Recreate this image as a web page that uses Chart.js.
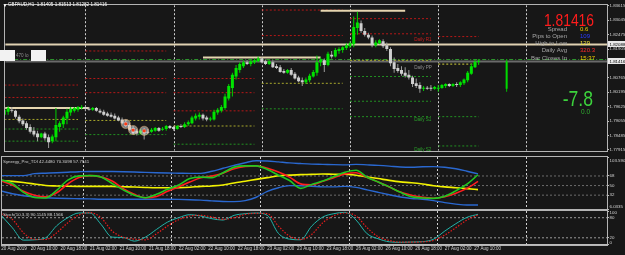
<!DOCTYPE html>
<html><head><meta charset="utf-8">
<script src="https://cdn.jsdelivr.net/npm/chart.js@4.4.1/dist/chart.umd.min.js"></script>
<style>
html,body{margin:0;padding:0;background:#161616;width:625px;height:255px;overflow:hidden;}
canvas{position:absolute;left:0;display:block;}
#c1{top:0;} #c2{top:156px;} #c3{top:210px;}
</style></head><body>
<canvas id="c1" width="625" height="156"></canvas>
<canvas id="c2" width="625" height="54"></canvas>
<canvas id="c3" width="625" height="45"></canvas>
<script>
// ---------------- data ----------------
const symbol = 'GBPAUD', period = 'H1';
const open = [1.7931,1.7942,1.7950,1.7946,1.7923,1.7908,1.7897,1.7882,1.7867,1.7856,
1.7841,1.7856,1.7841,1.7826,1.7841,1.7882,1.7893,1.7916,1.7939,1.7946,
1.7950,1.7957,1.7961,1.7954,1.7950,1.7957,1.7946,1.7942,1.7935,1.7931,
1.7927,1.7920,1.7912,1.7901,1.7890,1.7878,1.7867,1.7856,1.7871,1.7863,
1.7863,1.7867,1.7878,1.7871,1.7874,1.7886,1.7882,1.7874,1.7886,1.7882,
1.7893,1.7897,1.7916,1.7923,1.7931,1.7920,1.7912,1.7912,1.7939,1.7946,
1.7957,1.7995,1.8036,1.8082,1.8108,1.8123,1.8138,1.8131,1.8138,1.8142,
1.8153,1.8142,1.8131,1.8138,1.8123,1.8119,1.8104,1.8097,1.8108,1.8093,
1.8078,1.8067,1.8059,1.8067,1.8082,1.8097,1.8138,1.8146,1.8127,1.8168,
1.8161,1.8183,1.8187,1.8195,1.8202,1.8210,1.8274,1.8293,1.8262,1.8247,
1.8236,1.8206,1.8214,1.8221,1.8206,1.8191,1.8138,1.8116,1.8108,1.8097,
1.8089,1.8078,1.8055,1.8048,1.8033,1.8036,1.8036,1.8033,1.8033,1.8036,
1.8044,1.8052,1.8044,1.8052,1.8048,1.8055,1.8067,1.8093,1.8119,1.81405];
const high = [1.7957,1.7965,1.7961,1.7950,1.7931,1.7916,1.7905,1.7893,1.7882,1.7867,
1.7859,1.7863,1.7852,1.7852,1.7957,1.7905,1.7927,1.7954,1.7961,1.7961,
1.7965,1.7969,1.7965,1.7961,1.7961,1.7961,1.7954,1.7950,1.7942,1.7939,
1.7935,1.7927,1.7920,1.7912,1.7897,1.7886,1.7874,1.7874,1.7878,1.7874,
1.7878,1.7882,1.7882,1.7882,1.7890,1.7890,1.7886,1.7890,1.7893,1.7901,
1.7908,1.7927,1.7935,1.7939,1.7935,1.7927,1.7923,1.7950,1.7957,1.7969,
1.8014,1.8052,1.8097,1.8127,1.8138,1.8146,1.8146,1.8149,1.8153,1.8161,
1.8157,1.8149,1.8146,1.8146,1.8131,1.8127,1.8112,1.8112,1.8116,1.8100,
1.8085,1.8078,1.8078,1.8093,1.8108,1.8165,1.8157,1.8153,1.8180,1.8183,
1.8195,1.8198,1.8202,1.8214,1.8221,1.8319,1.8338,1.8304,1.8274,1.8255,
1.8244,1.8225,1.8229,1.8229,1.8217,1.8198,1.8157,1.8131,1.8123,1.8119,
1.8108,1.8085,1.8074,1.8059,1.8044,1.8044,1.8048,1.8044,1.8048,1.8052,
1.8055,1.8055,1.8055,1.8059,1.8063,1.8074,1.8104,1.8131,1.8150,1.81513];
const low = [1.7923,1.7931,1.7939,1.7916,1.7897,1.7886,1.7871,1.7856,1.7844,1.7826,
1.7837,1.7829,1.7799,1.7818,1.7826,1.7863,1.7878,1.7893,1.7927,1.7939,
1.7942,1.7950,1.7946,1.7946,1.7946,1.7942,1.7935,1.7927,1.7923,1.7920,
1.7912,1.7905,1.7893,1.7882,1.7867,1.7852,1.7848,1.7852,1.7833,1.7852,
1.7859,1.7863,1.7863,1.7867,1.7867,1.7874,1.7867,1.7871,1.7878,1.7878,
1.7886,1.7893,1.7908,1.7912,1.7908,1.7905,1.7905,1.7908,1.7931,1.7939,
1.7950,1.7987,1.8003,1.8070,1.8097,1.8116,1.8127,1.8123,1.8131,1.8138,
1.8134,1.8127,1.8127,1.8116,1.8112,1.8097,1.8093,1.8093,1.8085,1.8070,
1.8059,1.8044,1.8052,1.8059,1.8078,1.8085,1.8123,1.8100,1.8123,1.8153,
1.8157,1.8172,1.8176,1.8187,1.8195,1.8198,1.8247,1.8255,1.8240,1.8229,
1.8198,1.8198,1.8210,1.8195,1.8183,1.8123,1.8097,1.8097,1.8085,1.8078,
1.8070,1.8040,1.8036,1.8018,1.8025,1.8029,1.8025,1.8029,1.8022,1.8033,
1.8036,1.8040,1.8040,1.8040,1.8040,1.8048,1.8059,1.8089,1.8116,1.81282];
const close = [1.7950,1.7957,1.7946,1.7923,1.7905,1.7893,1.7878,1.7863,1.7852,1.7841,
1.7856,1.7837,1.7822,1.7844,1.7890,1.7897,1.7920,1.7942,1.7954,1.7957,
1.7961,1.7961,1.7954,1.7950,1.7957,1.7946,1.7939,1.7931,1.7927,1.7923,
1.7916,1.7908,1.7897,1.7886,1.7871,1.7856,1.7856,1.7867,1.7856,1.7859,
1.7871,1.7878,1.7867,1.7874,1.7886,1.7878,1.7874,1.7886,1.7882,1.7893,
1.7901,1.7920,1.7927,1.7931,1.7916,1.7912,1.7916,1.7942,1.7950,1.7961,
1.8003,1.8044,1.8089,1.8116,1.8131,1.8138,1.8131,1.8142,1.8146,1.8153,
1.8138,1.8131,1.8142,1.8119,1.8116,1.8100,1.8097,1.8108,1.8089,1.8074,
1.8063,1.8059,1.8070,1.8085,1.8100,1.8138,1.8149,1.8127,1.8172,1.8161,
1.8187,1.8191,1.8198,1.8206,1.8214,1.8278,1.8296,1.8262,1.8247,1.8236,
1.8206,1.8217,1.8225,1.8202,1.8191,1.8134,1.8112,1.8104,1.8093,1.8085,
1.8078,1.8052,1.8044,1.8033,1.8036,1.8033,1.8033,1.8040,1.8036,1.8048,
1.8052,1.8044,1.8052,1.8048,1.8059,1.8070,1.8097,1.8123,1.81405,1.81416];

const timeIdx = [0,8,16,24,32,40,48,56,64,72,80,88,96,104,112,120,128];
const timeLabels = ['20 Aug 2019','20 Aug 10:00','20 Aug 18:00','21 Aug 02:00','21 Aug 10:00','21 Aug 18:00',
 '22 Aug 02:00','22 Aug 10:00','22 Aug 18:00','23 Aug 02:00','23 Aug 10:00','23 Aug 18:00',
 '26 Aug 02:00','26 Aug 10:00','26 Aug 18:00','27 Aug 02:00','27 Aug 10:00'];
const daySeparators = [22,46,70,94,118,142];
const priceTicks = [1.83615,1.83045,1.82475,1.81905,1.80765,1.80195,1.79625,1.79055,1.78485,1.77915];

const pivotStart = [0,22,46,70,94,118];
const pivotEnd   = [20,44,68,92,116,129];
const pivotRes = [[1.7999,1.8048],[1.8018,1.8074,1.8183],[1.7946,1.8018,1.8074],[1.8244,1.8345],[1.8251,1.8311],[1.8240]];
const pivotPP  = [1.7912,1.7908,1.7886,1.8055,1.8146,1.8131];
const pivotSup = [[1.7874,1.7826],[1.7852],[1.7814],[1.7954],[1.8082,1.7984,1.7923],[1.7923,1.7807]];

const dayHighStart = [0,54,86];
const dayHighEnd   = [23,86,109];
const dayHighPrice = [1.7957,1.8157,1.8342];
const markedLevel = 1.82088;
const greenLevel = 1.8149;
const highlightIdx = [33,35,38];
const highlightPrice = [1.7894,1.7870,1.7867];
const dailyBarPos = 136.6;
const dailyOHLC = [1.8033,1.81513,1.8022,1.81416];

const infoLabels = ['Spread','Pips to Open','High to Low','Daily Avg','Bar Closes In'];
const infoValues = ['0.6','109','129','320.3','15:37'];
const pipsChange = '-7.8', pipsSub = '0.0';

const tdiIdx = [0,3,6,9,12,15,18,21,24,27,30,33,36,39,42,45,48,51,54,57,60,63,66,69,72,75,78,81,84,87,90,93,96,99,102,105,108,111,114,117,120,123,126,129];
const tdiGreen = [60.7,53.9,37.3,27.6,26.7,41.0,60.3,68.1,68.6,65.9,53.9,41.9,31.8,27.2,33.6,42.9,51.1,63.1,65.9,64.9,74.1,84.6,87.0,87.0,80.2,69.5,59.4,44.7,52.1,58.5,66.8,74.9,78.7,65.5,56.5,47.5,37.3,29.0,26.7,25.9,30.0,40.1,52.6,70.3098];
const tdiRed = [58.7,51.1,39.2,31.8,28.7,36.4,53.0,64.9,68.6,65.9,58.5,44.1,33.6,27.2,29.4,39.2,47.5,56.5,64.6,67.7,73.2,81.5,85.7,87.0,82.4,75.4,65.9,53.2,51.5,58.1,64.9,71.8,74.1,65.3,56.7,47.5,37.7,31.8,27.8,26.3,29.0,35.5,44.7,57.7941];
const tdiYellow = [59.4,57.9,55.7,53.0,50.2,49.3,48.7,48.4,48.4,48.4,48.4,47.8,47.3,46.5,46.0,46.0,46.2,46.9,48.4,49.3,51.1,54.8,58.1,61.6,64.9,68.3,69.5,70.5,71.0,71.8,71.2,71.4,69.5,66.2,63.1,59.8,57.0,55.2,52.8,49.8,47.5,46.0,44.3,42.448];
const tdiUp = [68.6,68.6,68.6,72.3,73.2,74.1,75.1,76.0,76.5,76.5,76.4,76.0,75.4,74.7,74.1,73.6,73.2,72.8,72.8,76.9,82.4,87.9,92.9,96.6,96.2,94.4,92.5,91.3,90.3,89.8,89.2,88.9,89.8,88.9,87.9,86.5,84.8,84.3,85.2,85.6,84.3,81.5,76.9,71.8];
const tdiDn = [39.7,34.6,30.9,28.7,27.2,26.3,25.7,25.4,25.0,24.4,24.4,24.4,24.4,24.4,24.4,24.4,24.1,23.5,22.6,21.3,20.2,19.8,21.7,28.1,39.2,46.0,49.8,49.7,48.7,47.5,47.5,48.4,46.5,41.9,37.3,32.7,28.5,25.7,24.4,21.7,18.0,15.2,13.4,13.4];
const tdiLevels = [68,50,32];
const tdiTicks = [103.5905,68,50,32,6.0335];

const stochIdx = tdiIdx;
const stochMain = [87,50,13,14,20,56,80,94,94,60,22,21,10,22,45,67,80,89,85,77,73,87,92,94,87,33,16,14,55,82,92,96,73,32,17,8,6.5,7.5,8.5,16,40,62,81,90.1145];
const stochSignal = [92,75,35,15,15,35,65,88,95,80,40,22,16,14,32,55,74,85,87,82,75,80,90,93,92,55,25,15,30,65,86,94,85,50,23,12,7,7,8,12,28,50,73,88.1566];
const stochLevels = [80,20];
const stochTicks = [100,80,20,0];

// ---------------- style ----------------
const FONT = "'Liberation Sans', Arial, sans-serif";
const BG = '#171717';
const FRAME = '#b4b4b4';
const X_MIN = 0.2, X_MAX = 163.9;
const Y_MIN = 1.77878, Y_MAX = 1.83642;
Chart.defaults.font.family = FONT;

const barIdx = open.map((_, i) => i);
const isBull = close.map((c, i) => c >= open[i]);

function xScale(show) {
  return {
    type: 'linear', min: X_MIN, max: X_MAX, offset: false, bounds: 'data', display: show,
    afterBuildTicks: s => { s.ticks = timeIdx.map(v => ({ value: v })); },
    afterFit: s => { s.paddingLeft = 0; s.paddingRight = 0; if (show) s.height = 10.5; },
    ticks: { autoSkip: false, maxRotation: 0, minRotation: 0, align: 'start', padding: 0.5,
      color: '#d0d0d0', font: { family: FONT, size: 4.5 }, callback: (v, i) => timeLabels[i] },
    grid: { display: show, drawOnChartArea: false, drawTicks: true, tickLength: 1.5, color: '#bdbdbd' },
    border: { display: show, color: '#bdbdbd' }
  };
}
function yScale(min, max, ticksArr, fmt) {
  return {
    type: 'linear', position: 'right', min, max, bounds: 'data', beginAtZero: false,
    afterBuildTicks: s => { s.ticks = ticksArr.map(v => ({ value: v })); },
    afterFit: s => { s.width = 18; s.paddingTop = 0; s.paddingBottom = 0; },
    ticks: { autoSkip: false, padding: 0.5, color: '#d4d4d4', font: { family: FONT, size: 4.4, lineHeight: '4px' }, callback: fmt },
    grid: { display: true, drawOnChartArea: false, drawTicks: true, tickLength: 2, color: '#bdbdbd' },
    border: { display: true, color: '#bdbdbd' }
  };
}
function hLine(x0, x1, v, color, width, dash, order) {
  return { type: 'line', data: [{ x: x0, y: v }, { x: x1, y: v }], borderColor: color, borderWidth: width,
    borderDash: dash, pointRadius: 0, pointHitRadius: 0, order: order, fill: false };
}
function series(xs, ys, color, width, dash, order) {
  return { type: 'line', data: xs.map((x, i) => ({ x, y: ys[i] })), borderColor: color, borderWidth: width,
    borderDash: dash || [], pointRadius: 0, pointHitRadius: 0, cubicInterpolationMode: 'monotone', order: order, fill: false };
}

const decor = {
  id: 'decor',
  beforeDraw(c) { const { ctx, width, height } = c; ctx.save(); ctx.fillStyle = BG; ctx.fillRect(0, 0, width, height); ctx.restore(); },
  beforeDatasetsDraw(c) {
    const { ctx, chartArea: a } = c; const x = c.scales.x;
    ctx.save(); ctx.beginPath(); ctx.rect(a.left, a.top, a.right - a.left, a.bottom - a.top); ctx.clip();
    ctx.strokeStyle = '#cfcfcf'; ctx.lineWidth = 1; ctx.setLineDash([2, 2]);
    daySeparators.forEach(v => { const px = Math.round(x.getPixelForValue(v)) + 0.5; ctx.beginPath(); ctx.moveTo(px, a.top); ctx.lineTo(px, a.bottom); ctx.stroke(); });
    ctx.restore();
  },
  afterDraw(c) {
    const a = c.chartArea, ctx = c.ctx; ctx.save(); ctx.strokeStyle = FRAME; ctx.lineWidth = 1;
    ctx.strokeRect(Math.round(a.left) - 0.5, Math.round(a.top) - 0.5, Math.round(a.right - a.left) + 1, Math.round(a.bottom - a.top) + 1);
    ctx.restore();
  }
};

// ---------------- main chart ----------------
const mainSets = [];
mainSets.push({ type: 'scatter', data: highlightIdx.map((x, i) => ({ x, y: highlightPrice[i] })), pointRadius: 1.6, backgroundColor: '#ff3a14', borderWidth: 0, order: 0 });
mainSets.push({ type: 'scatter', data: highlightIdx.map((x, i) => ({ x, y: highlightPrice[i] })), pointRadius: 4.6, backgroundColor: 'rgba(215,215,215,0.55)', borderColor: 'rgba(255,190,120,0.7)', borderWidth: 0.6, order: 0.5 });
mainSets.push({ type: 'bar', data: barIdx.map(i => ({ x: i, y: [open[i], close[i]] })), backgroundColor: isBull.map(b => b ? '#00e400' : '#cfcfcf'),
  barThickness: 3, grouped: false, minBarLength: 1, inflateAmount: 0, borderWidth: 0, order: 1 });
mainSets.push({ type: 'bar', data: barIdx.map(i => ({ x: i, y: [low[i], high[i]] })), backgroundColor: isBull.map(b => b ? '#00d000' : '#9c9c9c'),
  barThickness: 1, grouped: false, inflateAmount: 0, borderWidth: 0, order: 2 });
mainSets.push({ type: 'bar', data: [{ x: dailyBarPos, y: [dailyOHLC[0], dailyOHLC[3]] }], backgroundColor: '#00d800', barThickness: 2, grouped: false, inflateAmount: 0, order: 1 });
mainSets.push({ type: 'bar', data: [{ x: dailyBarPos, y: [dailyOHLC[2], dailyOHLC[1]] }], backgroundColor: '#00c000', barThickness: 1, grouped: false, inflateAmount: 0, order: 2 });
const lastDay = pivotStart.length - 1;
pivotStart.forEach((s, d) => {
  const e = pivotEnd[d];
  pivotRes[d].forEach(v => mainSets.push(hLine(s, e, v, '#b51818', 1, [2, 2], 6)));
  mainSets.push(hLine(s, e, pivotPP[d], d === lastDay ? '#d4d43a' : '#a8a82c', 1, [2, 2], 6));
  pivotSup[d].forEach(v => mainSets.push(hLine(s, e, v, '#229022', 1, [2, 2], 6)));
});
dayHighStart.forEach((s, i) => mainSets.push(hLine(s, dayHighEnd[i], dayHighPrice[i], '#e6d6b0', 2, [], 5)));
mainSets.push(hLine(X_MIN, X_MAX, markedLevel, '#e0d2b2', 2, [], 5));
mainSets.push(hLine(X_MIN, X_MAX, close.at(-1), '#6a6a6a', 2, [], 7));
mainSets.push(hLine(X_MIN, X_MAX, greenLevel, '#2f9a2f', 1, [4, 2, 1, 2], 6));

const mainOverlay = {
  id: 'mainOverlay',
  afterDraw(c) {
    const { ctx } = c; const x = c.scales.x, y = c.scales.y;
    ctx.save();
    ctx.fillStyle = '#ffffff'; ctx.textBaseline = 'middle'; ctx.textAlign = 'left';
    ctx.font = `5px ${FONT}`; ctx.fillText('\u25BC', 2.5, 5.2);
    ctx.font = `4.6px ${FONT}`;
    const n = close.length - 1;
    ctx.fillText(`${symbol},${period}  ${open[n].toFixed(5)} ${high[n].toFixed(5)} ${low[n].toFixed(5)} ${close[n].toFixed(5)}`, 8, 5.2);
    ctx.fillStyle = '#f2f2f2'; ctx.fillRect(0, 50, 15, 11); ctx.fillRect(31, 50, 15, 11);
    ctx.fillStyle = '#8c8c8c'; ctx.font = `4.6px ${FONT}`; ctx.fillText('470 lo', 16, 56);
    const lx = x.getPixelForValue(pivotStart[lastDay]) - 24;
    ctx.textBaseline = 'top'; ctx.font = `4.6px ${FONT}`;
    ctx.fillStyle = '#c81e1e'; ctx.fillText('Daily R1', lx, y.getPixelForValue(pivotRes[lastDay][0]) + 1);
    ctx.fillStyle = '#8e8e8e'; ctx.fillText('Daily PP', lx, y.getPixelForValue(pivotPP[lastDay]) + 1);
    ctx.fillStyle = '#2aa02a'; ctx.fillText('Daily S1', lx, y.getPixelForValue(pivotSup[lastDay][0]) + 1);
    ctx.fillText('Daily S2', lx, y.getPixelForValue(pivotSup[lastDay][1]) + 1);
    ctx.textBaseline = 'alphabetic'; ctx.textAlign = 'right';
    ctx.save(); ctx.translate(594, 25.5); ctx.scale(0.84, 1); ctx.fillStyle = '#ff1c1c'; ctx.font = `16.5px ${FONT}`;
    ctx.fillText(close[n].toFixed(5), 0, 0); ctx.restore();
    const infoColors = ['#f0d000', '#2a3cff', '#f2e23a', '#ff2a2a', '#f0c800'];
    const infoY = [29.3, 36.2, 43, 50.6, 58.3];
    ctx.textBaseline = 'middle'; ctx.font = `6px ${FONT}`;
    infoLabels.forEach((t, i) => {
      ctx.textAlign = 'right'; ctx.fillStyle = '#a8a8a8'; ctx.fillText(t, 567, infoY[i]);
      ctx.textAlign = 'left'; ctx.fillStyle = infoColors[i]; ctx.fillText(infoValues[i], 580, infoY[i]);
    });
    ctx.textBaseline = 'alphabetic'; ctx.textAlign = 'right';
    ctx.save(); ctx.translate(593, 106); ctx.scale(0.8, 1); ctx.fillStyle = '#3cd23c'; ctx.font = `22px ${FONT}`;
    ctx.fillText(pipsChange, 0, 0); ctx.restore();
    ctx.textBaseline = 'middle'; ctx.textAlign = 'left'; ctx.fillStyle = '#30b030'; ctx.font = `6.5px ${FONT}`;
    ctx.fillText(pipsSub, 581, 112.5);
    [markedLevel, close[n]].forEach(v => {
      const py = y.getPixelForValue(v);
      ctx.fillStyle = '#e8e8e8'; ctx.fillRect(608, Math.round(py) - 3, 17, 6);
      ctx.fillStyle = '#000000'; ctx.font = `4.4px ${FONT}`; ctx.textAlign = 'left'; ctx.textBaseline = 'middle';
      ctx.fillText(v.toFixed(5), 609.5, py);
    });
    ctx.restore();
  }
};

new Chart(document.getElementById('c1'), {
  type: 'bar',
  data: { datasets: mainSets },
  options: {
    responsive: false, animation: false, devicePixelRatio: 1, events: [],
    layout: { padding: { left: 2, top: 2, right: 0, bottom: 1 } },
    plugins: { legend: { display: false }, tooltip: { enabled: false } },
    scales: { x: xScale(false), y: yScale(Y_MIN, Y_MAX, priceTicks, v => v.toFixed(5)) }
  },
  plugins: [decor, mainOverlay]
});

// ---------------- TDI ----------------
const tdiSets = [
  series(tdiIdx, tdiGreen, '#20c820', 1.6, [], 1),
  series(tdiIdx, tdiRed, '#ff1e1e', 1.6, [], 2),
  series(tdiIdx, tdiYellow, '#f2f200', 1.6, [], 3),
  series(tdiIdx, tdiUp, '#2a68d0', 1.4, [], 4),
  series(tdiIdx, tdiDn, '#2a68d0', 1.4, [], 4)
];
tdiLevels.forEach(v => tdiSets.push(hLine(X_MIN, X_MAX, v, '#6c6c6c', 1, [2, 2], 9)));
const tdiOverlay = {
  id: 'tdiOverlay',
  afterDraw(c) {
    const ctx = c.ctx; ctx.save(); ctx.fillStyle = '#cfcfcf'; ctx.font = `4.4px ${FONT}`; ctx.textBaseline = 'middle'; ctx.textAlign = 'left';
    ctx.fillText(`Synergy_Pro_TDI ${tdiYellow.at(-1).toFixed(4)} ${tdiGreen.at(-1).toFixed(4)} ${tdiRed.at(-1).toFixed(4)}`, 3, 6);
    ctx.restore();
  }
};
new Chart(document.getElementById('c2'), {
  type: 'line',
  data: { datasets: tdiSets },
  options: {
    responsive: false, animation: false, devicePixelRatio: 1, events: [],
    layout: { padding: { left: 2, top: 1, right: 0, bottom: 1 } },
    plugins: { legend: { display: false }, tooltip: { enabled: false } },
    scales: { x: xScale(false), y: yScale(tdiTicks[4], tdiTicks[0], tdiTicks, v => v === tdiTicks[0] ? ['', '', '103.5905'] : v === tdiTicks[4] ? ['6.0335', ''] : String(v)) }
  },
  plugins: [decor, tdiOverlay]
});

// ---------------- Stochastic ----------------
const stSets = [
  series(stochIdx, stochMain, '#22b4aa', 1, [], 2),
  series(stochIdx, stochSignal, '#e81c1c', 1.2, [1.5, 1.5], 1)
];
stochLevels.forEach(v => stSets.push(hLine(X_MIN, X_MAX, v, '#9a9a9a', 1, [2, 2], 9)));
const stOverlay = {
  id: 'stOverlay',
  afterDraw(c) {
    const ctx = c.ctx; ctx.save(); ctx.fillStyle = '#cfcfcf'; ctx.font = `4.4px ${FONT}`; ctx.textBaseline = 'middle'; ctx.textAlign = 'left';
    ctx.fillText(`Stoch(10,3,3) ${stochMain.at(-1).toFixed(4)} ${stochSignal.at(-1).toFixed(4)}`, 3, 4.5);
    ctx.restore();
  }
};
new Chart(document.getElementById('c3'), {
  type: 'line',
  data: { datasets: stSets },
  options: {
    responsive: false, animation: false, devicePixelRatio: 1, events: [],
    layout: { padding: { left: 2, top: 1, right: 0, bottom: 0 } },
    plugins: { legend: { display: false }, tooltip: { enabled: false } },
    scales: { x: xScale(true), y: yScale(0, 100, stochTicks, v => v === 100 ? ['', '100'] : v === 0 ? ['0', ''] : String(v)) }
  },
  plugins: [decor, stOverlay]
});
</script></body></html>
